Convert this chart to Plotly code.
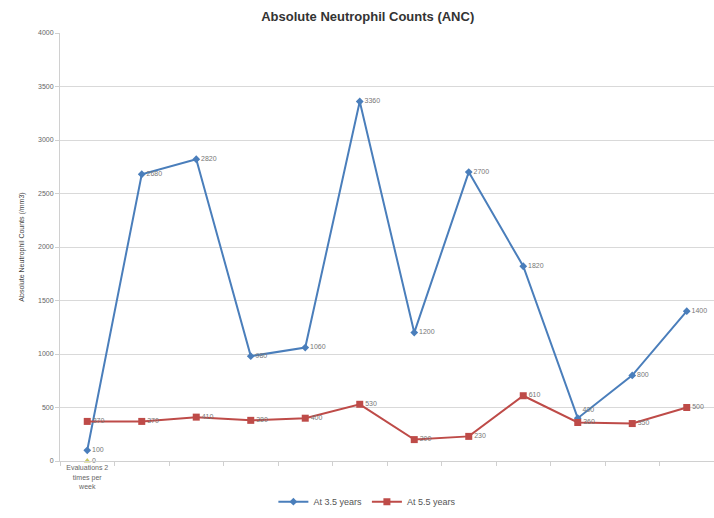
import plotly.graph_objects as go

# Visit categories: only the first one carries a label
categories = ["Evaluations 2<br>times per<br>week", "", "", "", "", "", "", "", "", "", "", ""]
anc_3_5 = [100, 2680, 2820, 980, 1060, 3360, 1200, 2700, 1820, 400, 800, 1400]
anc_5_5 = [370, 370, 410, 380, 400, 530, 200, 230, 610, 360, 350, 500]
baseline = [0]
y_ticks = [0, 500, 1000, 1500, 2000, 2500, 3000, 3500, 4000]

idx = list(range(len(categories)))
font = "Liberation Sans, Arial, sans-serif"
label_font = dict(family=font, size=7, color="#777777")

# keep the two labels at the crossing point apart
pos_3_5 = ["middle right"] * len(anc_3_5)
pos_3_5[9] = "top right"

fig = go.Figure()
fig.add_trace(go.Scatter(
    x=idx, y=anc_3_5, name="At 3.5 years", mode="lines+markers+text",
    line=dict(color="#4a7ebb", width=2),
    marker=dict(symbol="diamond", size=6, color="#4a7ebb"),
    text=[str(v) for v in anc_3_5], textposition=pos_3_5,
    textfont=label_font, cliponaxis=False,
))
fig.add_trace(go.Scatter(
    x=idx, y=anc_5_5, name="At 5.5 years", mode="lines+markers+text",
    line=dict(color="#be4b48", width=2),
    marker=dict(symbol="square", size=7, color="#be4b48"),
    text=[str(v) for v in anc_5_5], textposition="middle right",
    textfont=label_font, cliponaxis=False,
))
fig.add_trace(go.Scatter(
    x=idx[:len(baseline)], y=baseline, name="", mode="markers+text",
    marker=dict(symbol="triangle-up", size=6, color="#c8c860"),
    text=[str(v) for v in baseline], textposition="middle right",
    textfont=label_font, showlegend=False, cliponaxis=False,
))

fig.update_layout(
    width=714, height=518,
    margin=dict(l=60, r=0, t=33, b=57),
    paper_bgcolor="white", plot_bgcolor="white",
    title=dict(text="<b>Absolute Neutrophil Counts (ANC)</b>",
               x=0.515, xanchor="center", y=0.968, yanchor="middle",
               font=dict(family=font, size=13, color="#333333")),
    showlegend=True,
    legend=dict(orientation="h", x=0.47, xanchor="center", y=-0.095, yanchor="middle",
                font=dict(family=font, size=9, color="#555555"),
                itemwidth=30),
    xaxis=dict(
        range=[-0.5, len(categories) - 0.5],
        tickmode="array", tickvals=idx, ticktext=categories,
        ticks="", showgrid=False, zeroline=False,
        showline=True, linecolor="#d0d0d0",
        tickfont=dict(family=font, size=7, color="#666666"),
        minor=dict(tickvals=[i - 0.5 for i in range(len(categories) + 1)],
                   ticks="outside", ticklen=4, tickcolor="#d0d0d0", showgrid=False),
    ),
    yaxis=dict(
        range=[0, 4000], tickmode="array", tickvals=y_ticks,
        showgrid=True, gridcolor="#d9d9d9", gridwidth=1,
        zeroline=False, showline=True, linecolor="#d0d0d0",
        ticks="outside", ticklen=4, tickcolor="#d0d0d0",
        tickfont=dict(family=font, size=7, color="#666666"),
        title=dict(text="Absolute Neutrophil Counts (/mm3)", standoff=12,
                   font=dict(family=font, size=7, color="#444444")),
    ),
)

fig.write_html("out.html")
